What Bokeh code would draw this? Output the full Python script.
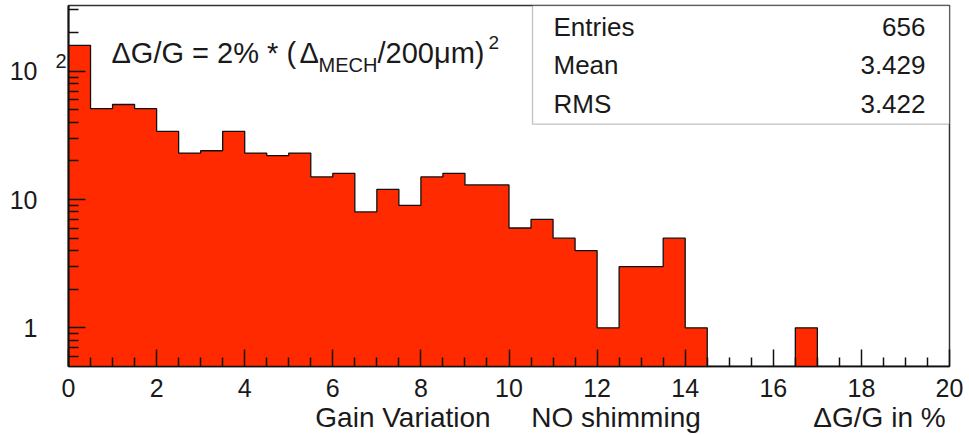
import math
from bokeh.plotting import figure
from bokeh.models import Range1d, FixedTicker, Label, BoxAnnotation, LinearAxis, LogAxis
from bokeh.embed import file_html
from bokeh.resources import INLINE

# ---------------- data ----------------
bin_left = [0.0, 0.5, 1.0, 1.5, 2.0, 2.5, 3.0, 3.5, 4.0, 4.5,
            5.0, 5.5, 6.0, 6.5, 7.0, 7.5, 8.0, 8.5, 9.0, 9.5,
            10.0, 10.5, 11.0, 11.5, 12.0, 12.5, 13.0, 13.5, 14.0, 14.5,
            15.0, 15.5, 16.0, 16.5, 17.0, 17.5, 18.0, 18.5, 19.0, 19.5]
bin_width = 0.5
counts = [159, 51, 55, 51, 34, 23, 24, 34, 23, 22,
          23, 15, 16, 8, 12, 9, 15, 16, 13, 13,
          6, 7, 5, 4, 1, 3, 3, 5, 1, 0,
          0, 0, 0, 1, 0, 0, 0, 0, 0, 0]

x_ticks = [0, 2, 4, 6, 8, 10, 12, 14, 16, 18, 20]
x_minor_ticks = [0.5, 1.0, 1.5, 2.5, 3.0, 3.5, 4.5, 5.0, 5.5, 6.5, 7.0, 7.5,
                 8.5, 9.0, 9.5, 10.5, 11.0, 11.5, 12.5, 13.0, 13.5, 14.5, 15.0,
                 15.5, 16.5, 17.0, 17.5, 18.5, 19.0, 19.5]
y_ticks = [1, 10, 100]
y_tick_labels = ["1", "10", "10"]
y_exponent_label = "2"          # exponent of the 10^2 tick label
y_minor_ticks = [0.6, 0.7, 0.8, 0.9, 2, 3, 4, 5, 6, 7, 8, 9,
                 20, 30, 40, 50, 60, 70, 80, 90, 200, 300]

stats_names = ["Entries", "Mean", "RMS"]
stats_values = ["656", "3.429", "3.422"]

formula_parts = ["\u0394G/G = 2% * (", "\u0394", "MECH", "/200\u03bcm)", "2"]
x_title_parts = ["Gain Variation", "NO shimming", "\u0394G/G in %"]

# ---------------- layout ----------------
W, H = 969, 435
FL, FR, FT, FB = 68, 949, 5, 367     # frame edges in pixels
XMIN, XMAX = 0.0, 20.0
YMIN, YMAX = 0.5, 325.0
FONT = "Liberation Sans"
TXT = "#1a1a1a"
RED = "#ff2a00"
BASE_K = 0.42   # empirical baseline correction (fraction of font size)


def xd(px):
    return XMIN + (px - FL) / (FR - FL) * (XMAX - XMIN)


def yd(py):
    l0, l1 = math.log10(YMIN), math.log10(YMAX)
    return 10 ** (l0 + (FB - py) / (FB - FT) * (l1 - l0))


def label(txt, px, py_base, fs, align="left"):
    return Label(x=xd(px), y=yd(py_base - BASE_K * fs), text=txt,
                 text_font=FONT, text_font_size=f"{fs}px", text_color=TXT,
                 text_baseline="alphabetic", text_align=align)


def plain_axis(ax, font_size, standoff):
    ax.axis_line_color = None
    ax.major_tick_line_color = None
    ax.minor_tick_line_color = None
    ax.major_tick_in = 0
    ax.major_tick_out = 0
    ax.minor_tick_in = 0
    ax.minor_tick_out = 0
    ax.major_label_standoff = standoff
    ax.major_label_text_font = FONT
    ax.major_label_text_font_size = font_size
    ax.major_label_text_color = TXT


p = figure(width=W, height=H, output_backend="svg", toolbar_location=None,
           y_axis_type="log",
           x_range=Range1d(XMIN, XMAX), y_range=Range1d(YMIN, YMAX),
           min_border_left=FL, min_border_right=W - FR,
           min_border_top=FT, min_border_bottom=H - FB)
p.background_fill_color = "white"
p.border_fill_color = "white"
p.grid.visible = False
p.outline_line_color = "#333333"
p.outline_line_width = 1.5

# histogram area + outline (step) built from the bins
sx, sy = [bin_left[0]], [YMIN]
for lo, c in zip(bin_left, counts):
    h = c if c > 0 else YMIN
    sx += [lo, lo + bin_width]
    sy += [h, h]
sx.append(bin_left[-1] + bin_width)
sy.append(YMIN)
p.patch(sx, sy, fill_color=RED, line_color=None)
p.line(sx, sy, line_color="#111111", line_width=1.3)

# x axis
xa = p.xaxis[0]
xa.ticker = FixedTicker(ticks=x_ticks, minor_ticks=x_minor_ticks)
xa.major_tick_in = 17
xa.major_tick_out = 0
xa.minor_tick_in = 9
xa.minor_tick_out = 0
xa.major_tick_line_color = "#111111"
xa.minor_tick_line_color = "#111111"
xa.major_tick_line_width = 1.5
xa.minor_tick_line_width = 1.5
xa.axis_line_color = "#111111"
xa.axis_line_width = 1.5
xa.major_label_text_font = FONT
xa.major_label_text_font_size = "25px"
xa.major_label_text_color = TXT
xa.major_label_standoff = 12

# x title, drawn as a label-only axis below the tick labels
title_pos = [round(xd(402.5), 4), round(xd(615.5), 4), round(xd(879), 4)]
xt = LinearAxis(ticker=FixedTicker(ticks=title_pos, minor_ticks=[]),
                major_label_overrides={t: s for t, s in zip(title_pos, x_title_parts)})
plain_axis(xt, "28px", 2)
p.add_layout(xt, "below")

# y axis: ticks and line only (nearest the frame)
ya = p.yaxis[0]
ya.ticker = FixedTicker(ticks=y_ticks, minor_ticks=y_minor_ticks)
ya.major_label_overrides = {t: "" for t in y_ticks}
ya.major_tick_in = 17
ya.major_tick_out = 0
ya.minor_tick_in = 10
ya.minor_tick_out = 0
ya.major_tick_line_color = "#111111"
ya.minor_tick_line_color = "#111111"
ya.major_tick_line_width = 1.5
ya.minor_tick_line_width = 1.5
ya.axis_line_color = "#111111"
ya.axis_line_width = 2
ya.major_label_standoff = 0
ya.major_label_text_font_size = "1px"

# exponent of 10^2 (label-only axis, slightly above the 10^2 tick)
exp_pos = [round(yd(60.5), 4)]
ye = LogAxis(ticker=FixedTicker(ticks=exp_pos, minor_ticks=[]),
             major_label_overrides={exp_pos[0]: y_exponent_label})
plain_axis(ye, "20px", 2)
p.add_layout(ye, "left")

# decade labels (label-only axis, outermost)
yl = LogAxis(ticker=FixedTicker(ticks=y_ticks, minor_ticks=[]),
             major_label_overrides={t: s for t, s in zip(y_ticks, y_tick_labels)})
plain_axis(yl, "25px", 15)
p.add_layout(yl, "left")

# stats box
p.add_layout(BoxAnnotation(left=xd(532), right=XMAX, bottom=yd(124), top=YMAX,
                           fill_color="white", fill_alpha=1.0,
                           line_color="#333333", line_width=1.3))
for name, val, base in zip(stats_names, stats_values, [37, 76, 114.5]):
    p.add_layout(label(name, 553, base, 26, "left"))
    p.add_layout(label(val, 925, base, 26, "right"))

# formula
f_pos = [(111, 64.5, 29), (299, 64.5, 29), (318, 73.5, 20),
         (377, 64.5, 29), (488, 50, 19)]
for txt, (px, py, fs) in zip(formula_parts, f_pos):
    p.add_layout(label(txt, px, py, fs, "left"))

open("out.html", "w").write(file_html(p, INLINE))
